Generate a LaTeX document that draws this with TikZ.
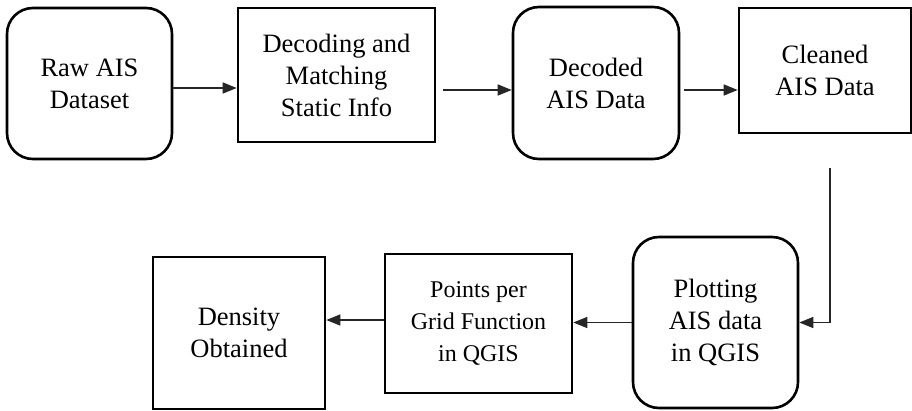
\documentclass[tikz,border=0pt]{standalone}
\usepackage{fontspec}
\setmainfont{Liberation Serif}
\usetikzlibrary{arrows.meta}
\begin{document}
\begin{tikzpicture}[x=1pt,y=-1pt,
  box/.style={draw=black,line width=2.6pt,align=center,inner sep=0pt,
    font=\fontsize{26.5}{32}\selectfont},
  rbox/.style={box,rounded corners=26pt},
  arr/.style={draw=black!85,line width=1.5pt,-{Triangle[length=14pt,width=11pt]}}]
\useasboundingbox (0,0) rectangle (912,410);
\node[rbox,minimum width=165pt,minimum height=151pt] (raw) at (89.5,83.5) {Raw AIS\\Dataset};
\node[box,minimum width=197pt,minimum height=134pt] (decod) at (336.5,75) {Decoding and\\Matching\\Static Info};
\node[rbox,minimum width=166pt,minimum height=152pt] (decd) at (596,83) {Decoded\\AIS Data};
\node[box,minimum width=172pt,minimum height=125pt] (clean) at (825,70.5) {Cleaned\\AIS Data};
\node[rbox,minimum width=165pt,minimum height=171pt] (plot) at (715.5,322.5) {Plotting\\AIS data\\in QGIS};
\node[box,minimum width=187pt,minimum height=139pt,font=\fontsize{24}{32}\selectfont] (pts) at (478.5,323.5) {Points per\\Grid Function\\in QGIS};
\node[box,minimum width=172pt,minimum height=152pt] (dens) at (239,333) {Density\\Obtained};
\coordinate (c1) at (830,168);
\draw[arr] (raw.east |- 0,88) -- (decod.west |- 0,88);
\draw[arr] ([xshift=7pt]decod.east |- 0,90) -- (decd.west |- 0,90);
\draw[arr] ([xshift=4pt]decd.east |- 0,90) -- (clean.west |- 0,90);
\draw[arr] (c1) |- (plot.east);
\draw[arr] (plot.west) -- (pts.east |- plot.west);
\draw[arr] (pts.west |- 0,320) -- (dens.east |- 0,320);
\end{tikzpicture}
\end{document}
